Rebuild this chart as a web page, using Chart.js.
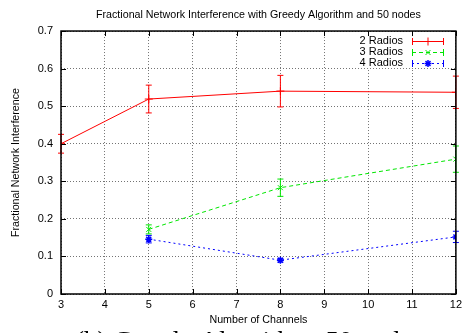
<!DOCTYPE html>
<html>
<head>
<meta charset="utf-8">
<script src="https://cdn.jsdelivr.net/npm/chart.js@4/dist/chart.umd.min.js"></script>
<style>
  html, body { margin: 0; padding: 0; background: #fff; }
  #wrap { position: relative; width: 466px; height: 333px; overflow: hidden; background: #fff; }
  #c { position: absolute; left: 0; top: 0; }
</style>
</head>
<body>
<div id="wrap">
  <canvas id="c" width="466" height="333"></canvas>
</div>
<script>
// ---- data ----
const chartTitle = "Fractional Network Interference with Greedy Algorithm and 50 nodes";
const xAxisLabel = "Number of Channels";
const yAxisLabel = "Fractional Network Interference";
const captionText = "(b) Greedy Algorithm, 50 nodes";
const seriesNames = ["2 Radios", "3 Radios", "4 Radios"];

const channels2 = [3, 5, 8, 12];
const radios2 = [0.400, 0.519, 0.540, 0.537];
const radios2Err = [0.025, 0.037, 0.042, 0.043];

const channels3 = [5, 8, 12];
const radios3 = [0.172, 0.283, 0.359];
const radios3Err = [0.012, 0.023, 0.035];

const channels4 = [5, 8, 12];
const radios4 = [0.146, 0.090, 0.152];
const radios4Err = [0.010, 0.005, 0.015];

const xTickValues = [3, 4, 5, 6, 7, 8, 9, 10, 11, 12];
const yTickValues = [0, 0.1, 0.2, 0.3, 0.4, 0.5, 0.6, 0.7];

const FONT = '"Liberation Sans", Arial, Helvetica, sans-serif';
const SERIF = '"Liberation Serif", "DejaVu Serif", serif';

function pts(xs, ys) { return xs.map((x, i) => ({ x: x, y: ys[i] })); }

const datasets = [
  { label: seriesNames[0], data: pts(channels2, radios2), err: radios2Err,
    borderColor: '#ff0000', backgroundColor: '#ff0000', borderWidth: 1,
    pointStyle: 'cross', pointRadius: 4, pointBorderWidth: 1, borderDash: [] },
  { label: seriesNames[1], data: pts(channels3, radios3), err: radios3Err,
    borderColor: '#00e600', backgroundColor: '#00e600', borderWidth: 1,
    pointStyle: 'crossRot', pointRadius: 3.5, pointBorderWidth: 1, borderDash: [4, 3] },
  { label: seriesNames[2], data: pts(channels4, radios4), err: radios4Err,
    borderColor: '#0000ff', backgroundColor: '#0000ff', borderWidth: 1,
    pointStyle: 'star', pointRadius: 3.5, pointBorderWidth: 1.5, borderDash: [2, 3] }
];
datasets.forEach(d => { d.fill = false; d.tension = 0; d.pointHoverRadius = d.pointRadius; });

const errorBars = {
  id: 'errorBars',
  afterDatasetsDraw(chart) {
    const ctx = chart.ctx;
    const ys = chart.scales.y;
    chart.data.datasets.forEach((ds, di) => {
      const meta = chart.getDatasetMeta(di);
      ctx.save();
      ctx.strokeStyle = ds.borderColor;
      ctx.lineWidth = 1;
      ctx.setLineDash([]);
      meta.data.forEach((el, i) => {
        const v = ds.data[i].y, e = ds.err[i];
        const x = el.x;
        const yTop = ys.getPixelForValue(v + e);
        const yBot = ys.getPixelForValue(v - e);
        ctx.beginPath();
        ctx.moveTo(x, yTop); ctx.lineTo(x, yBot);
        ctx.moveTo(x - 3, yTop); ctx.lineTo(x + 3, yTop);
        ctx.moveTo(x - 3, yBot); ctx.lineTo(x + 3, yBot);
        ctx.stroke();
      });
      ctx.restore();
    });
  }
};

const frameAndLegend = {
  id: 'frameAndLegend',
  afterDraw(chart) {
    const ctx = chart.ctx;
    const a = chart.chartArea;
    const xs = chart.scales.x, ys = chart.scales.y;
    ctx.save();
    ctx.setLineDash([]);
    // key background (gnuplot blanks the grid behind the key)
    ctx.fillStyle = '#fff';
    ctx.fillRect(355, a.top + 1, a.right - 356, 36);
    ctx.strokeStyle = '#000';
    // inner tick marks (mirrored)
    ctx.lineWidth = 1;
    ctx.beginPath();
    xTickValues.forEach(v => {
      const px = Math.round(xs.getPixelForValue(v)) + 0.5;
      ctx.moveTo(px, a.bottom); ctx.lineTo(px, a.bottom - 5);
      ctx.moveTo(px, a.top); ctx.lineTo(px, a.top + 5);
    });
    yTickValues.forEach(v => {
      const py = Math.round(ys.getPixelForValue(v)) + 0.5;
      ctx.moveTo(a.left, py); ctx.lineTo(a.left + 5, py);
      ctx.moveTo(a.right, py); ctx.lineTo(a.right - 5, py);
    });
    ctx.stroke();
    // border
    ctx.lineWidth = 1.5;
    ctx.strokeRect(a.left, a.top, a.right - a.left, a.bottom - a.top);

    // gnuplot style key
    ctx.font = '11px ' + FONT;
    ctx.textAlign = 'right';
    ctx.textBaseline = 'middle';
    chart.data.datasets.forEach((ds, i) => {
      const y = 41 + 11 * i;
      ctx.fillStyle = '#000';
      ctx.fillText(ds.label, 403, y);
      ctx.strokeStyle = ds.borderColor;
      ctx.fillStyle = ds.borderColor;
      ctx.lineWidth = 1;
      ctx.setLineDash(ds.borderDash);
      ctx.beginPath();
      ctx.moveTo(412, y + 0.5); ctx.lineTo(444, y + 0.5);
      ctx.stroke();
      ctx.setLineDash([]);
      ctx.beginPath();
      ctx.moveTo(412.5, y - 3); ctx.lineTo(412.5, y + 4);
      ctx.moveTo(443.5, y - 3); ctx.lineTo(443.5, y + 4);
      ctx.stroke();
      ctx.lineWidth = ds.pointBorderWidth;
      Chart.helpers.drawPoint(ctx, {
        pointStyle: ds.pointStyle, radius: ds.pointRadius, borderWidth: ds.pointBorderWidth, rotation: 0
      }, 428, y + 0.5);
    });

    // figure caption (cut off by the bottom edge, as in the reference)
    ctx.fillStyle = '#000';
    ctx.font = '27px ' + SERIF;
    ctx.textAlign = 'left';
    ctx.textBaseline = 'alphabetic';
    ctx.fillText(captionText, 75, 350);
    ctx.restore();
  }
};

new Chart(document.getElementById('c'), {
  type: 'line',
  data: { datasets: datasets },
  options: {
    responsive: false,
    devicePixelRatio: 1,
    animation: false,
    layout: { padding: { left: 0, right: 9, top: 0, bottom: 0 } },
    plugins: {
      legend: { display: false },
      tooltip: { enabled: false },
      title: {
        display: true, text: chartTitle, fullSize: false, color: '#000',
        font: { family: FONT, size: 10.7, weight: 'normal', lineHeight: 1.2 },
        padding: { top: 8.5, bottom: 9.7 }
      }
    },
    scales: {
      x: {
        type: 'linear', min: 3, max: 12,
        afterFit(s) { s.height = 39; },
        afterBuildTicks(s) { s.ticks = xTickValues.map(v => ({ value: v })); },
        ticks: { color: '#000', padding: 4, font: { family: FONT, size: 11 }, maxRotation: 0,
                 callback: v => String(v) },
        grid: { color: 'rgba(0,0,0,0.55)', lineWidth: 1, drawTicks: false },
        border: { display: false, dash: [1, 2] },
        title: { display: true, text: xAxisLabel, color: '#000',
                 font: { family: FONT, size: 10.7, lineHeight: 1.2 }, padding: { top: 0, bottom: 7 } }
      },
      y: {
        type: 'linear', min: 0, max: 0.7,
        afterFit(s) { s.width = 61; },
        afterBuildTicks(s) { s.ticks = yTickValues.map(v => ({ value: v })); },
        ticks: { color: '#000', padding: 8, font: { family: FONT, size: 11 },
                 callback: v => String(Number(v.toFixed(1))) },
        grid: { color: 'rgba(0,0,0,0.55)', lineWidth: 1, drawTicks: false },
        border: { display: false, dash: [1, 2] },
        title: { display: true, text: yAxisLabel, color: '#000',
                 font: { family: FONT, size: 10.7, lineHeight: 1.2 }, padding: { top: 10, bottom: 0 } }
      }
    }
  },
  plugins: [errorBars, frameAndLegend]
});
</script>
</body>
</html>
